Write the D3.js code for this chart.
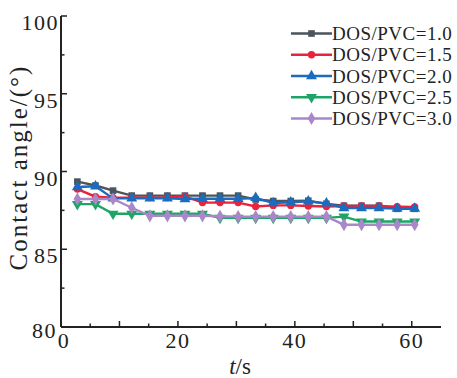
<!DOCTYPE html>
<html>
<head>
<meta charset="utf-8">
<script src="https://cdn.jsdelivr.net/npm/d3@7"></script>
<style>
  body { margin: 0; background: #fff; }
  svg text { font-family: "Liberation Serif", "DejaVu Serif", serif; fill: #222; }
</style>
</head>
<body>
<div id="chart"></div>
<script>
var width = 457;
var height = 378;

// time points (s)
var times = [2.8, 5.9, 8.9, 12.1, 15.2, 18.2, 21.2, 24.2, 27.2, 30.3, 33.3, 36.3, 39.3, 42.3, 45.4, 48.4, 51.4, 54.4, 57.5, 60.5];

// contact angle (deg) per DOS/PVC ratio
var dos10 = [89.35, 89.1, 88.77, 88.45, 88.45, 88.45, 88.45, 88.45, 88.45, 88.45, 88.2, 88.1, 88.1, 88.12, 87.92, 87.8, 87.8, 87.8, 87.6, 87.6];
var dos15 = [88.87, 88.38, 88.32, 88.32, 88.32, 88.32, 88.4, 88.0, 88.0, 88.0, 87.75, 87.82, 87.82, 87.78, 87.75, 87.78, 87.78, 87.78, 87.74, 87.72];
var dos20 = [89.0, 89.05, 88.27, 88.27, 88.27, 88.27, 88.23, 88.25, 88.25, 88.25, 88.3, 87.97, 88.02, 88.08, 87.95, 87.65, 87.65, 87.65, 87.62, 87.62];
var dos25 = [87.9, 87.9, 87.28, 87.28, 87.28, 87.28, 87.28, 87.28, 87.02, 87.02, 87.02, 87.02, 87.02, 87.02, 87.02, 87.1, 86.78, 86.78, 86.78, 86.78];
var dos30 = [88.23, 88.23, 88.23, 87.67, 87.15, 87.15, 87.15, 87.15, 87.12, 87.1, 87.1, 87.1, 87.1, 87.1, 87.1, 86.58, 86.58, 86.58, 86.58, 86.58];

var seriesNames = ["DOS/PVC=1.0", "DOS/PVC=1.5", "DOS/PVC=2.0", "DOS/PVC=2.5", "DOS/PVC=3.0"];
var seriesColors = ["#4b555b", "#e8233c", "#1b6cc0", "#1ea466", "#a987c9"];
var seriesSymbols = [d3.symbolSquare, d3.symbolCircle, d3.symbolTriangle, "down", d3.symbolDiamond];
var seriesValues = [dos10, dos15, dos20, dos25, dos30];

var xTicksMajor = [0, 10, 20, 30, 40, 50, 60];
var xTicksMinor = [5, 15, 25, 35, 45, 55];
var xLabels = [0, 20, 40, 60];
var yTicksMajor = [80, 85, 90, 95, 100];
var yTicksMinor = [82.5, 87.5, 92.5, 97.5];

var x = d3.scaleLinear().domain([0, 65]).range([61, 441]);
var y = d3.scaleLinear().domain([80, 100]).range([327, 16]);

var svg = d3.select("#chart").append("svg")
  .attr("width", width)
  .attr("height", height);

// axes
var axisColor = "#222";
svg.append("line").attr("x1", x(0)).attr("x2", x(65)).attr("y1", y(80)).attr("y2", y(80))
  .attr("stroke", axisColor).attr("stroke-width", 2);
svg.append("line").attr("x1", x(0)).attr("x2", x(0)).attr("y1", y(80)).attr("y2", y(100))
  .attr("stroke", axisColor).attr("stroke-width", 2);

svg.selectAll("line.xmaj").data(xTicksMajor).enter().append("line")
  .attr("x1", d => x(d)).attr("x2", d => x(d))
  .attr("y1", y(80)).attr("y2", y(80) - 6)
  .attr("stroke", axisColor).attr("stroke-width", 1.5);
svg.selectAll("line.xmin").data(xTicksMinor).enter().append("line")
  .attr("x1", d => x(d)).attr("x2", d => x(d))
  .attr("y1", y(80)).attr("y2", y(80) - 3.5)
  .attr("stroke", axisColor).attr("stroke-width", 1.5);
svg.selectAll("line.ymaj").data(yTicksMajor).enter().append("line")
  .attr("x1", x(0)).attr("x2", x(0) + 6)
  .attr("y1", d => y(d)).attr("y2", d => y(d))
  .attr("stroke", axisColor).attr("stroke-width", 1.5);
svg.selectAll("line.ymin").data(yTicksMinor).enter().append("line")
  .attr("x1", x(0)).attr("x2", x(0) + 3.5)
  .attr("y1", d => y(d)).attr("y2", d => y(d))
  .attr("stroke", axisColor).attr("stroke-width", 1.5);

svg.selectAll("text.xl").data(xLabels).enter().append("text")
  .attr("x", d => x(d) + (d === 0 ? 3 : 0)).attr("y", 348)
  .attr("text-anchor", "middle")
  .attr("font-size", 22).attr("letter-spacing", 1.5)
  .text(d => d);
svg.selectAll("text.yl").data(yTicksMajor).enter().append("text")
  .attr("x", d => x(0) - (d === 80 ? 4 : 2)).attr("y", d => y(d) + (d === 80 ? 11 : 14))
  .attr("text-anchor", "end")
  .attr("font-size", 22).attr("letter-spacing", 1.5)
  .text(d => d);

// axis titles
svg.append("text")
  .attr("transform", "translate(27," + ((y(80) + y(100)) / 2 - 4) + ") rotate(-90)")
  .attr("text-anchor", "middle")
  .attr("font-size", 25).attr("letter-spacing", 2)
  .text("Contact angle/(°)");
var xt = svg.append("text")
  .attr("x", 240).attr("y", 374)
  .attr("text-anchor", "middle")
  .attr("font-size", 23);
xt.append("tspan").attr("font-style", "italic").text("t");
xt.append("tspan").text("/s");

function markerPath(sym, size) {
  if (sym === "down") return d3.symbol(d3.symbolTriangle, size)();
  return d3.symbol(sym, size)();
}
function markerTransform(sym, cx, cy) {
  if (sym === "down") return "translate(" + cx + "," + cy + ") rotate(180)";
  return "translate(" + cx + "," + cy + ")";
}
var symSize = [44, 42, 52, 52, 50];

var line = d3.line().x(d => x(d[0])).y(d => y(d[1]));

seriesValues.forEach(function(vals, i) {
  var pts = times.map((t, j) => [t, vals[j]]);
  var g = svg.append("g");
  g.append("path").datum(pts)
    .attr("d", line)
    .attr("fill", "none")
    .attr("stroke", seriesColors[i])
    .attr("stroke-width", 2.4);
  g.selectAll("path.m").data(pts).enter().append("path")
    .attr("d", markerPath(seriesSymbols[i], symSize[i]))
    .attr("transform", d => markerTransform(seriesSymbols[i], x(d[0]), y(d[1])))
    .attr("fill", seriesColors[i]);
});

// legend
var legendY = d3.scaleLinear().domain([0, 4]).range([33.5, 118.5]);
seriesNames.forEach(function(name, i) {
  var ly = legendY(i);
  svg.append("line")
    .attr("x1", 291).attr("x2", 332).attr("y1", ly).attr("y2", ly)
    .attr("stroke", seriesColors[i]).attr("stroke-width", 2.4);
  svg.append("path")
    .attr("d", markerPath(seriesSymbols[i], symSize[i]))
    .attr("transform", markerTransform(seriesSymbols[i], 311.5, ly))
    .attr("fill", seriesColors[i]);
  svg.append("text")
    .attr("x", 332).attr("y", ly + 6.5)
    .attr("font-size", 19).attr("letter-spacing", 0.5)
    .text(name);
});
</script>
</body>
</html>
